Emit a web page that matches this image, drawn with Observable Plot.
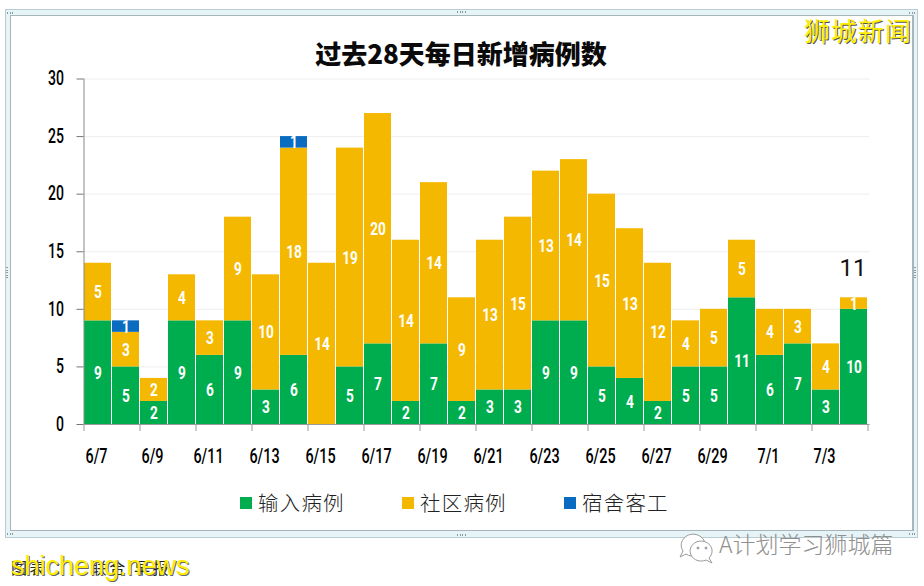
<!DOCTYPE html>
<html><head><meta charset="utf-8">
<script src="https://cdn.jsdelivr.net/npm/d3@7"></script>
<script src="https://cdn.jsdelivr.net/npm/@observablehq/plot@0.6"></script>
<style>
html,body{margin:0;padding:0;background:#fff;width:924px;height:586px;overflow:hidden}
#outer{position:absolute;left:5px;top:9px;width:911px;height:527px;background:#e6f3f7;border:1px solid #b8ccd3}
#inner{position:absolute;left:10px;top:15px;width:901px;height:514px;background:#fff;border:solid #a7b6bb;border-width:1.5px 0 1.5px 1.5px;border-right:2px solid #a7b6bb}
#chart{position:absolute;left:0;top:0}
.t{position:absolute;white-space:pre}
#title{left:0;width:922px;top:35px;text-align:center;font:900 26px "Noto Sans CJK SC",sans-serif;color:#0a0a0a;line-height:36px}
.sw{position:absolute;width:12px;height:12px;top:497px}
.lg{position:absolute;top:487px;font:300 20.5px/30px "Noto Sans CJK SC",sans-serif;letter-spacing:1.2px;color:#222}
#brand{left:804px;top:14px;font:400 26px/32px "Noto Sans CJK SC",sans-serif;letter-spacing:1px;color:#ffee00;text-shadow:1px 1px 0 #555}
#src{left:11px;top:555px;font:400 16px/24px "Noto Sans CJK SC",sans-serif;letter-spacing:2.5px;color:#222}
#site{left:11px;top:549px;font:400 27px/34px "Liberation Sans",sans-serif;color:#ffee00;text-shadow:1px 1px 0 #666}
#wx{left:719px;top:527px;font:300 23px/32px "Noto Sans CJK SC",sans-serif;color:#8f8f8f}
.h{position:absolute;width:9px;height:2px;background:repeating-linear-gradient(90deg,#8b9a9f 0 1px,transparent 1px 2.6px)}
.v{position:absolute;width:2px;height:13px;background:repeating-linear-gradient(180deg,#8b9a9f 0 1px,transparent 1px 2.6px)}
svg text{font-family:Roboto,sans-serif}
</style></head><body>
<div id="outer"></div><div id="inner"></div>
<div class="h" style="left:457px;top:11px"></div><div class="h" style="left:457px;top:534px"></div>
<div class="v" style="left:6px;top:267px"></div><div class="v" style="left:914px;top:267px"></div>
<div class="h" style="left:7px;top:12px;width:6px"></div><div class="h" style="left:909px;top:12px;width:6px"></div>
<div class="h" style="left:7px;top:533px;width:6px"></div><div class="h" style="left:909px;top:533px;width:6px"></div>
<div id="chart"></div>
<div id="title" class="t">过去28天每日新增病例数</div>
<div id="legend"></div>
<div id="brand" class="t">狮城新闻</div>
<div id="src" class="t">图表 ：   联合 早报</div>
<div id="site" class="t">shicheng.news</div>
<svg class="t" style="left:675px;top:527px" width="42" height="38" viewBox="0 0 42 38" fill="#fff" stroke="#9a9a9a" stroke-width="1"><path d="M8 24 L5 30 L11 27 A12 11 0 1 0 8 24Z"/><path d="M34 31 L37 36 L31 33 A11 10 0 1 1 34 31Z"/><circle cx="23" cy="21" r="1" fill="#9a9a9a"/><circle cx="31" cy="21" r="1" fill="#9a9a9a"/></svg>
<div id="wx" class="t">A计划学习狮城篇</div>
<script>
const dates = ["6/7","6/8","6/9","6/10","6/11","6/12","6/13","6/14","6/15","6/16","6/17","6/18","6/19","6/20","6/21","6/22","6/23","6/24","6/25","6/26","6/27","6/28","6/29","6/30","7/1","7/2","7/3","7/4"];
const imported = [9,5,2,9,6,9,3,6,0,5,7,2,7,2,3,3,9,9,5,4,2,5,5,11,6,7,3,10];
const community = [5,3,2,4,3,9,10,18,14,19,20,14,14,9,13,15,13,14,15,13,12,4,5,5,4,3,4,1];
const dorm = [0,1,0,0,0,0,0,1,0,0,0,0,0,0,0,0,0,0,0,0,0,0,0,0,0,0,0,0];
const seriesNames = ["输入病例","社区病例","宿舍客工"];
const seriesColors = ["#00ad4e","#f5b800","#0a6cc0"];
const tickDates = dates.filter((d,i)=>i%2===0);
const yTicks = [0,5,10,15,20,25,30];
const totalLabelDate = ["7/4"], totalLabelValue = [11];

const rows = [];
[imported,community,dorm].forEach((vals,s)=>vals.forEach((v,i)=>{ if(v>0) rows.push({date:dates[i],series:seriesNames[s],value:v}); }));

const stack = {x:"date",y:"value",z:"series",order:seriesNames};
const plot = Plot.plot({
  width:924,height:586,
  marginLeft:83.5,marginRight:54.5,marginTop:78.5,marginBottom:162,
  style:{background:"transparent",overflow:"visible"},
  x:{type:"band",domain:dates,paddingInner:0.04,paddingOuter:0.02,align:0,label:null},
  y:{domain:[0,30],label:null},
  color:{domain:seriesNames,range:seriesColors},
  marks:[
    Plot.gridY(yTicks,{stroke:"#eeeeee",strokeOpacity:1,strokeWidth:1}),
    Plot.barY(rows,Plot.stackY({...stack,fill:"series"})),
    Plot.text(rows,Plot.stackY({...stack,text:d=>String(d.value),fill:"#fff",fontWeight:"bold",fontSize:19})),
    Plot.ruleY([0],{stroke:"#9a9a9a",strokeWidth:1.2}),
    Plot.ruleX(["6/7"],{y1:0,y2:30,dx:-14,stroke:"#888"}),
    Plot.axisY({ticks:yTicks,tickSize:7,tickPadding:13,stroke:"#777",fontSize:19.5,fontWeight:500,fill:"#000",label:null,tickFormat:d=>d}),
    Plot.axisX({ticks:tickDates,tickSize:0,tickPadding:24,fontSize:20,fontWeight:500,fill:"#000",dx:-1.5,label:null,tickFormat:d=>d}),
    Plot.axisX({ticks:tickDates,text:null,tickSize:7,stroke:"#999",dx:-14,label:null}),
    Plot.axisX({ticks:["7/4"],text:null,tickSize:7,stroke:"#999",dx:14,label:null}),
    Plot.text(totalLabelDate.map((d,i)=>({date:d,v:totalLabelValue[i]})),{x:"date",y:"v",text:d=>String(d.v),dy:-30,fontSize:24,fill:"#111",dx:-1,fontFamily:"Liberation Sans"})
  ]
});
document.getElementById("chart").append(plot);
// DIN-like condensed digits: no condensed family is installed, so narrow the glyphs around their anchor
d3.select(plot).selectAll("text").each(function(){
  const g=this.closest("g[font-family]");
  if(g&&g.getAttribute("font-family")==="Liberation Sans")return;
  const tr=this.getAttribute("transform")||"";
  this.setAttribute("transform",tr+" scale(0.72,1)");
});
const lg = document.getElementById("legend");
const swX=[240,402,564];
seriesNames.forEach((n,i)=>{
  lg.insertAdjacentHTML("beforeend",`<div class="sw" style="left:${swX[i]}px;background:${seriesColors[i]}"></div><div class="lg t" style="left:${swX[i]+18}px">${n}</div>`);
});
</script>
</body></html>
